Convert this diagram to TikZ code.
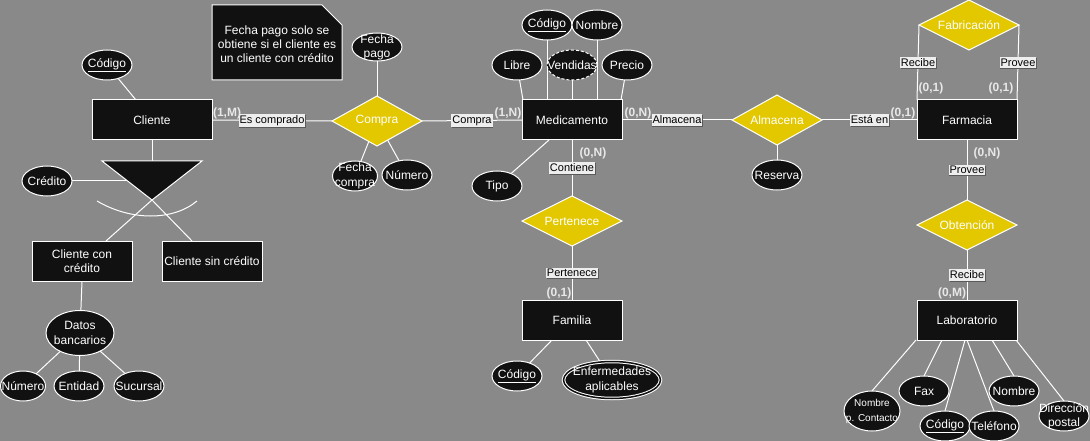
\documentclass[tikz,border=0pt]{standalone}
\usepackage{fontspec}
\setmainfont{Liberation Sans}
\usetikzlibrary{shapes.geometric,backgrounds,shadows}
\definecolor{bgc}{HTML}{898989}
\definecolor{entc}{HTML}{111111}
\definecolor{relc}{HTML}{E3C800}
\definecolor{lblc}{HTML}{EEEEEE}
\definecolor{cardc}{HTML}{E8E8E8}
\definecolor{shc}{HTML}{5A5A5A}
\begin{document}
\begin{tikzpicture}[x=1pt,y=-1pt,
  every node/.style={font=\fontsize{12}{14}\selectfont,text=white,inner sep=0pt,outer sep=0pt},
  entity/.style={rectangle,draw=white,fill=entc,line width=1pt,minimum width=100pt,minimum height=40pt,align=center},
  rel/.style={diamond,shape aspect=2,draw=white,fill=relc,line width=1pt,minimum width=100pt,minimum height=50pt},
  attr/.style={ellipse,draw=white,fill=entc,line width=1pt,minimum width=50pt,minimum height=30pt},
  elab/.style={fill=lblc,text=black,font=\fontsize{11}{13}\selectfont,inner xsep=1pt,inner ysep=1.5pt,
    drop shadow={shadow xshift=0.8pt,shadow yshift=-1pt,fill=shc,opacity=1}},
  card/.style={text=cardc,font=\bfseries\fontsize{12}{14}\selectfont},
  conn/.style={draw=white,line width=1pt}]
\useasboundingbox (0,0) rectangle (1090,441);

% ---------- Cliente side ----------
\node[entity,minimum width=120pt] (cli) at (152,120) {Cliente};
\node[attr,label={center:\underline{Código}}] (clicod) at (107,65) {};
\node[attr,label={center:Crédito}] (cred) at (47,181) {};
\node[entity] (ccc) at (82,261) {Cliente con\\crédito};
\node[entity] (csc) at (212,261) {Cliente sin crédito};
\node[attr,minimum width=68pt,minimum height=45pt,label={[align=center,font=\fontsize{12}{15}\selectfont]center:Datos\\bancarios}] (datb) at (80,333) {};
\node[attr,minimum width=45pt,label={center:Número}] (dnum) at (23,386) {};
\node[attr,label={center:Entidad}] (dent) at (79,386) {};
\node[attr,label={center:Sucursal}] (dsuc) at (139,386) {};

\coordinate (isatl) at (102,161);
\coordinate (isatr) at (202,161);
\coordinate (isa) at (152,200);
\draw[fill=entc,draw=white,line width=1pt] (isatl) -- (isatr) -- (isa) -- cycle;

% ---------- Note ----------
\path[fill=entc,draw=white,line width=1pt] (212,5) -- (322,5) -- (342,25) -- (342,80) -- (212,80) -- cycle;
\node[align=center] (note) at (277,44) {Fecha pago solo se\\obtiene si el cliente es\\un cliente con crédito};

% ---------- Compra ----------
\node[rel,minimum width=90pt] (compra) at (377,121) {Compra};
\node[attr,minimum height=28pt,label={[align=center]center:Fecha\\pago}] (fpago) at (377,47) {};
\node[attr,minimum width=45pt,label={[align=center,font=\fontsize{12}{15}\selectfont]center:Fecha\\compra}] (fcomp) at (355,176) {};
\node[attr,label={center:Número}] (cnum) at (407,175) {};

% ---------- Medicamento ----------
\node[entity] (med) at (572,120) {Medicamento};
\node[attr,label={center:\underline{Código}}] (mcod) at (547,25) {};
\node[attr,label={center:Nombre}] (mnom) at (597,25) {};
\node[attr,label={center:Libre}] (mlib) at (517,65) {};
\node[attr,dash pattern=on 3pt off 2pt,label={center:Vendidas}] (mven) at (572,65) {};
\node[attr,label={center:Precio}] (mpre) at (627,65) {};
\node[attr,label={center:Tipo}] (mtip) at (497,186) {};

% ---------- Pertenece / Familia ----------
\node[rel] (pert) at (572,221) {Pertenece};
\node[entity] (fam) at (572,320) {Familia};
\node[attr,label={center:\underline{Código}}] (fcod) at (517,376) {};
\node[attr,double=entc,double distance=1.5pt,minimum width=97pt,minimum height=37pt,label={[align=center,font=\fontsize{12}{15}\selectfont]center:Enfermedades\\aplicables}] (fenf) at (612,380) {};

% ---------- Almacena ----------
\node[rel,minimum width=90pt] (alm) at (777,120) {Almacena};
\node[attr,label={center:Reserva}] (ares) at (777,175) {};

% ---------- Farmacia / Laboratorio ----------
\node[entity] (farm) at (967,120) {Farmacia};
\node[rel] (fab) at (969,25) {Fabricación};
\node[rel] (obt) at (967,225) {Obtención};
\node[entity] (lab) at (967,320) {Laboratorio};
\node[attr,minimum width=56pt,minimum height=40pt,label={[align=center,font=\fontsize{10}{15}\selectfont]center:Nombre\\p. Contacto}] (lnpc) at (872,411) {};
\node[attr,label={center:Fax}] (lfax) at (924,391) {};
\node[attr,label={center:\underline{Código}}] (lcod) at (945,426) {};
\node[attr,label={center:Teléfono}] (ltel) at (994,426) {};
\node[attr,label={center:Nombre}] (lnom) at (1014,391) {};
\node[attr,label={[align=center]center:Dirección\\postal}] (ldir) at (1064,416) {};

% ---------- Cardinalities ----------
\node[card] (k1) at (227,113) {(1,M)};
\node[card] (k2) at (508,113) {(1,N)};
\node[card] (k3) at (638,113) {(0,N)};
\node[card] (k4) at (903,113) {(0,1)};
\node[card] (k5) at (593,153) {(0,N)};
\node[card] (k6) at (559,293) {(0,1)};
\node[card] (k7) at (931,88) {(0,1)};
\node[card] (k8) at (1001,88) {(0,1)};
\node[card] (k9) at (987,153) {(0,N)};
\node[card] (k10) at (952,293) {(0,M)};

% ---------- Connectors (behind nodes) ----------
\begin{pgfonlayer}{background}
\fill[bgc] (0,0) rectangle (1090,441);
\draw[conn] (clicod) -- ([xshift=-16pt]cli.north);
\draw[conn] (cli.south) -- (cli.south |- isatl);
\draw[conn] (cred) -- (isa |- cred);
\draw[conn] (isa) -- ([xshift=24pt]ccc.north);
\draw[conn] (isa) -- ([xshift=-20pt]csc.north);
\draw[conn] (97,201) .. controls (131,221) and (173,221) .. (197,201);
\draw[conn] (ccc.south) -- (datb);
\draw[conn] (datb) -- (dnum);
\draw[conn] (datb) -- (dent);
\draw[conn] (datb) -- (dsuc);

\draw[conn] (fpago) -- (compra.north);
\draw[conn] (compra) -- (fcomp);
\draw[conn] (compra) -- (cnum);

\draw[conn] (mcod) -- (mcod |- med.north);
\draw[conn] (mnom) -- (mnom |- med.north);
\draw[conn] (mven) -- (mven |- med.north);
\draw[conn] (mlib) -- ([xshift=1pt]med.north west);
\draw[conn] (mpre) -- ([xshift=-1pt]med.north east);
\draw[conn] (mtip) -- ([xshift=27pt]med.south west);
\draw[conn] (ares) -- (alm.south);

\draw[conn] ([xshift=-20pt]fam.south) -- (fcod);
\draw[conn] ([xshift=14pt]fam.south) -- (fenf);

\draw[conn] ([xshift=-51pt]lab.south) -- (lnpc.north);
\draw[conn] ([xshift=-25pt]lab.south) -- (lfax.north);
\draw[conn] ([xshift=-2pt]lab.south) -- (lcod.north);
\draw[conn] (lab.south) -- (ltel.north);
\draw[conn] ([xshift=25pt]lab.south) -- (lnom.north);
\draw[conn] ([xshift=49pt]lab.south) -- (ldir.north);

\draw[conn] (cli.east) -- node[elab] {Es comprado} (compra.west);
\draw[conn] (compra.east) -- node[elab] {Compra} (med.west);
\draw[conn] (med.east) -- node[elab] {Almacena} (alm.west);
\draw[conn] (alm.east) -- node[elab] {Está en} (farm.west);
\draw[conn] (med.south) -- node[elab] {Contiene} (pert.north);
\draw[conn] (pert.south) -- node[elab] {Pertenece} (fam.north);
\draw[conn] (farm.south) -- node[elab] {Provee} (obt.north);
\draw[conn] (obt.south) -- node[elab] {Recibe} (lab.north);
\draw[conn] (fab.west) -- node[elab] {Recibe} (farm.north west);
\draw[conn] (fab.east) -- node[elab] {Provee} (farm.north east);
\end{pgfonlayer}
\end{tikzpicture}
\end{document}
